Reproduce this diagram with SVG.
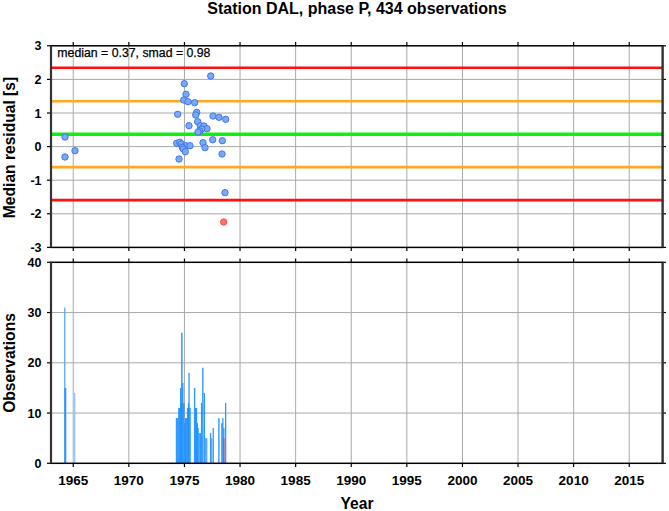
<svg xmlns="http://www.w3.org/2000/svg" width="669" height="511" viewBox="0 0 669 511">
<style>
text{font-family:"Liberation Sans",Arial,sans-serif;fill:#000}
.t{font-size:16px;font-weight:bold}
.yl{font-size:12.5px;font-weight:bold;text-anchor:end}
.xl{font-size:13.5px;font-weight:bold;text-anchor:middle}
.grid line{stroke:#a8a8a8;stroke-width:1}
.tick line{stroke:#000;stroke-width:1.2}
.frame{fill:none;stroke:#000;stroke-width:1.5}
.side{stroke:#333;stroke-width:2.2}
.pt{fill:#78aaf8;stroke:#3c6ee6;stroke-width:0.9}
.ptr{fill:#ff7070;stroke:#f04a4a;stroke-width:0.9}
.b{fill:#1e90ff;opacity:0.92}
.bl{fill:#5aaaff}
</style>
<rect width="669" height="511" fill="#fff"/>
<text class="t" x="357" y="14" text-anchor="middle">Station DAL, phase P, 434 observations</text>

<g id="top-panel">
<g class="grid">
<line x1="73.24" y1="45.8" x2="73.24" y2="247.4"/><line x1="128.84" y1="45.8" x2="128.84" y2="247.4"/><line x1="184.44" y1="45.8" x2="184.44" y2="247.4"/><line x1="240.04" y1="45.8" x2="240.04" y2="247.4"/><line x1="295.64" y1="45.8" x2="295.64" y2="247.4"/><line x1="351.24" y1="45.8" x2="351.24" y2="247.4"/><line x1="406.84" y1="45.8" x2="406.84" y2="247.4"/><line x1="462.44" y1="45.8" x2="462.44" y2="247.4"/><line x1="518.04" y1="45.8" x2="518.04" y2="247.4"/><line x1="573.64" y1="45.8" x2="573.64" y2="247.4"/><line x1="629.24" y1="45.8" x2="629.24" y2="247.4"/>
<line x1="51" y1="79.4" x2="662.6" y2="79.4"/><line x1="51" y1="113" x2="662.6" y2="113"/><line x1="51" y1="146.6" x2="662.6" y2="146.6"/><line x1="51" y1="180.2" x2="662.6" y2="180.2"/><line x1="51" y1="213.8" x2="662.6" y2="213.8"/>
</g>
<line x1="51" y1="67.8" x2="662.6" y2="67.8" stroke="#ff1010" stroke-width="2.6"/>
<line x1="51" y1="101.2" x2="662.6" y2="101.2" stroke="#ffa820" stroke-width="2.6"/>
<line x1="51" y1="134.2" x2="662.6" y2="134.2" stroke="#10f010" stroke-width="3.6"/>
<line x1="51" y1="167.1" x2="662.6" y2="167.1" stroke="#ffa820" stroke-width="2.6"/>
<line x1="51" y1="200.1" x2="662.6" y2="200.1" stroke="#ff1010" stroke-width="2.6"/>
<g id="points">
<circle class="pt" cx="65" cy="137" r="3.2"/><circle class="pt" cx="65" cy="157" r="3.2"/><circle class="pt" cx="75" cy="150.7" r="3.2"/>
<circle class="pt" cx="210.7" cy="76" r="3.2"/><circle class="pt" cx="184.3" cy="83.7" r="3.2"/><circle class="pt" cx="186" cy="94.3" r="3.2"/><circle class="pt" cx="183.7" cy="100" r="3.2"/><circle class="pt" cx="188" cy="101.7" r="3.2"/><circle class="pt" cx="194.7" cy="102.7" r="3.2"/><circle class="pt" cx="177.7" cy="114.3" r="3.2"/><circle class="pt" cx="196.7" cy="112.3" r="3.2"/><circle class="pt" cx="195.7" cy="115" r="3.2"/><circle class="pt" cx="213" cy="116" r="3.2"/><circle class="pt" cx="219" cy="117.3" r="3.2"/><circle class="pt" cx="225.7" cy="119.3" r="3.2"/><circle class="pt" cx="197.7" cy="121.7" r="3.2"/><circle class="pt" cx="189" cy="125.7" r="3.2"/><circle class="pt" cx="200.3" cy="125.7" r="3.2"/><circle class="pt" cx="204" cy="126" r="3.2"/><circle class="pt" cx="207" cy="128.7" r="3.2"/><circle class="pt" cx="201.7" cy="129" r="3.2"/><circle class="pt" cx="199.7" cy="131" r="3.2"/><circle class="pt" cx="198" cy="132" r="3.2"/><circle class="pt" cx="212.7" cy="139.7" r="3.2"/><circle class="pt" cx="222.3" cy="140.7" r="3.2"/><circle class="pt" cx="203" cy="142.7" r="3.2"/><circle class="pt" cx="176.7" cy="143.3" r="3.2"/><circle class="pt" cx="179.7" cy="142.3" r="3.2"/><circle class="pt" cx="181.3" cy="144" r="3.2"/><circle class="pt" cx="185.7" cy="145.7" r="3.2"/><circle class="pt" cx="190" cy="145.7" r="3.2"/><circle class="pt" cx="182.3" cy="147.3" r="3.2"/><circle class="pt" cx="183.3" cy="149" r="3.2"/><circle class="pt" cx="205" cy="147.7" r="3.2"/><circle class="pt" cx="185.3" cy="151.7" r="3.2"/><circle class="pt" cx="222" cy="154" r="3.2"/><circle class="pt" cx="179" cy="159" r="3.2"/><circle class="pt" cx="225" cy="192.7" r="3.2"/>
<circle class="ptr" cx="223.7" cy="222" r="3.2"/>
</g>
<g class="tick">
<line x1="47" y1="45.8" x2="51" y2="45.8"/><line x1="47" y1="79.4" x2="51" y2="79.4"/><line x1="47" y1="113" x2="51" y2="113"/><line x1="47" y1="146.6" x2="51" y2="146.6"/><line x1="47" y1="180.2" x2="51" y2="180.2"/><line x1="47" y1="213.8" x2="51" y2="213.8"/><line x1="47" y1="247.4" x2="51" y2="247.4"/>
<line x1="662.6" y1="45.8" x2="666" y2="45.8"/><line x1="662.6" y1="79.4" x2="666" y2="79.4"/><line x1="662.6" y1="113" x2="666" y2="113"/><line x1="662.6" y1="146.6" x2="666" y2="146.6"/><line x1="662.6" y1="180.2" x2="666" y2="180.2"/><line x1="662.6" y1="213.8" x2="666" y2="213.8"/><line x1="662.6" y1="247.4" x2="666" y2="247.4"/>
<line x1="73.24" y1="42" x2="73.24" y2="45.8"/><line x1="128.84" y1="42" x2="128.84" y2="45.8"/><line x1="184.44" y1="42" x2="184.44" y2="45.8"/><line x1="240.04" y1="42" x2="240.04" y2="45.8"/><line x1="295.64" y1="42" x2="295.64" y2="45.8"/><line x1="351.24" y1="42" x2="351.24" y2="45.8"/><line x1="406.84" y1="42" x2="406.84" y2="45.8"/><line x1="462.44" y1="42" x2="462.44" y2="45.8"/><line x1="518.04" y1="42" x2="518.04" y2="45.8"/><line x1="573.64" y1="42" x2="573.64" y2="45.8"/><line x1="629.24" y1="42" x2="629.24" y2="45.8"/>
<line x1="73.24" y1="247.4" x2="73.24" y2="251"/><line x1="128.84" y1="247.4" x2="128.84" y2="251"/><line x1="184.44" y1="247.4" x2="184.44" y2="251"/><line x1="240.04" y1="247.4" x2="240.04" y2="251"/><line x1="295.64" y1="247.4" x2="295.64" y2="251"/><line x1="351.24" y1="247.4" x2="351.24" y2="251"/><line x1="406.84" y1="247.4" x2="406.84" y2="251"/><line x1="462.44" y1="247.4" x2="462.44" y2="251"/><line x1="518.04" y1="247.4" x2="518.04" y2="251"/><line x1="573.64" y1="247.4" x2="573.64" y2="251"/><line x1="629.24" y1="247.4" x2="629.24" y2="251"/>
</g>
<rect class="frame" x="51" y="45.8" width="611.6" height="201.6"/>
<line class="side" x1="51" y1="45.8" x2="51" y2="247.4"/><line class="side" x1="662.6" y1="45.8" x2="662.6" y2="247.4"/>
<text x="57.3" y="57.3" style="font-size:12.3px;stroke:#000;stroke-width:0.25">median = 0.37, smad = 0.98</text>
<text class="yl" x="41.5" y="50.3">3</text><text class="yl" x="41.5" y="83.9">2</text><text class="yl" x="41.5" y="117.5">1</text><text class="yl" x="41.5" y="151.1">0</text><text class="yl" x="41.5" y="184.7">-1</text><text class="yl" x="41.5" y="218.3">-2</text><text class="yl" x="41.5" y="251.9">-3</text>
<text class="t" transform="translate(15,147.5) rotate(-90)" text-anchor="middle" style="font-size:15.6px">Median residual [s]</text>
</g>

<g id="bottom-panel">
<g class="grid">
<line x1="73.24" y1="262.3" x2="73.24" y2="463.3"/><line x1="128.84" y1="262.3" x2="128.84" y2="463.3"/><line x1="184.44" y1="262.3" x2="184.44" y2="463.3"/><line x1="240.04" y1="262.3" x2="240.04" y2="463.3"/><line x1="295.64" y1="262.3" x2="295.64" y2="463.3"/><line x1="351.24" y1="262.3" x2="351.24" y2="463.3"/><line x1="406.84" y1="262.3" x2="406.84" y2="463.3"/><line x1="462.44" y1="262.3" x2="462.44" y2="463.3"/><line x1="518.04" y1="262.3" x2="518.04" y2="463.3"/><line x1="573.64" y1="262.3" x2="573.64" y2="463.3"/><line x1="629.24" y1="262.3" x2="629.24" y2="463.3"/>
<line x1="51" y1="312.55" x2="662.6" y2="312.55"/><line x1="51" y1="362.8" x2="662.6" y2="362.8"/><line x1="51" y1="413.05" x2="662.6" y2="413.05"/>
</g>
<g id="bars">
<rect class="bl" x="64.1" y="307.5" width="1.3" height="155.8"/>
<rect class="b" x="64.5" y="387.9" width="1.8" height="75.4"/>
<rect fill="#9cc8ff" x="73.8" y="392.9" width="1.6" height="70.4"/>
<rect class="b" x="175.8" y="418.1" width="1.6" height="45.2"/>
<rect class="b" x="177.1" y="418.1" width="1.5" height="45.2"/>
<rect class="b" x="178.1" y="408" width="1.5" height="55.3"/>
<rect class="b" x="179.1" y="408" width="1.5" height="55.3"/>
<rect class="b" x="180" y="387.9" width="1.3" height="75.4"/>
<rect class="b" x="180.7" y="403" width="1.3" height="60.3"/>
<rect class="b" x="181.1" y="332.65" width="1.5" height="130.65"/>
<rect class="b" x="182.1" y="382.9" width="1.4" height="80.4"/>
<rect class="b" x="183.1" y="403" width="1.4" height="60.3"/>
<rect class="b" x="184.1" y="423.1" width="1.4" height="40.2"/>
<rect class="b" x="185" y="418.1" width="1.5" height="45.2"/>
<rect class="b" x="186.1" y="418.1" width="1.4" height="45.2"/>
<rect class="b" x="186.9" y="408" width="1.4" height="55.3"/>
<rect class="b" x="187.9" y="403" width="1.3" height="60.3"/>
<rect class="b" x="188.4" y="372.85" width="1.3" height="90.45"/>
<rect class="b" x="189.3" y="408" width="1.5" height="55.3"/>
<rect class="b" x="193.9" y="387.9" width="1.4" height="75.4"/>
<rect class="b" x="194.9" y="408" width="1.4" height="55.3"/>
<rect class="b" x="195.9" y="408" width="1.3" height="55.3"/>
<rect class="b" x="196.7" y="423.1" width="1.3" height="40.2"/>
<rect class="b" x="197.5" y="428.1" width="1.3" height="35.2"/>
<rect class="b" x="198.5" y="433.15" width="1.3" height="30.15"/>
<rect class="b" x="199.9" y="433.15" width="1.3" height="30.15"/>
<rect class="b" x="200.9" y="403" width="1.3" height="60.3"/>
<rect class="b" x="202.1" y="367.8" width="1.4" height="95.5"/>
<rect class="b" x="203.7" y="392.9" width="1.4" height="70.4"/>
<rect class="bl" x="204.9" y="438.2" width="1.4" height="25.1"/>
<rect class="bl" x="206" y="438.2" width="1.4" height="25.1"/>
<rect class="b" x="209.9" y="433.15" width="1.3" height="30.15"/>
<rect class="bl" x="210.9" y="438.2" width="1.4" height="25.1"/>
<rect class="b" x="212.6" y="428.1" width="1.3" height="35.2"/>
<rect class="b" x="218.2" y="418.1" width="1.4" height="45.2"/>
<rect class="b" x="221.2" y="423.1" width="1.4" height="40.2"/>
<rect class="b" x="222.2" y="418.1" width="1.3" height="45.2"/>
<rect class="b" x="223.2" y="428.1" width="1.3" height="35.2"/>
<rect x="223.2" y="438.2" width="1.3" height="25.1" fill="#d04a6a"/>
<rect class="b" x="225" y="403" width="1.3" height="60.3"/>
</g>
<g class="tick">
<line x1="47" y1="262.3" x2="51" y2="262.3"/><line x1="47" y1="312.55" x2="51" y2="312.55"/><line x1="47" y1="362.8" x2="51" y2="362.8"/><line x1="47" y1="413.05" x2="51" y2="413.05"/><line x1="47" y1="463.3" x2="51" y2="463.3"/>
<line x1="662.6" y1="262.3" x2="666" y2="262.3"/><line x1="662.6" y1="312.55" x2="666" y2="312.55"/><line x1="662.6" y1="362.8" x2="666" y2="362.8"/><line x1="662.6" y1="413.05" x2="666" y2="413.05"/><line x1="662.6" y1="463.3" x2="666" y2="463.3"/>
<line x1="73.24" y1="258.5" x2="73.24" y2="262.3"/><line x1="128.84" y1="258.5" x2="128.84" y2="262.3"/><line x1="184.44" y1="258.5" x2="184.44" y2="262.3"/><line x1="240.04" y1="258.5" x2="240.04" y2="262.3"/><line x1="295.64" y1="258.5" x2="295.64" y2="262.3"/><line x1="351.24" y1="258.5" x2="351.24" y2="262.3"/><line x1="406.84" y1="258.5" x2="406.84" y2="262.3"/><line x1="462.44" y1="258.5" x2="462.44" y2="262.3"/><line x1="518.04" y1="258.5" x2="518.04" y2="262.3"/><line x1="573.64" y1="258.5" x2="573.64" y2="262.3"/><line x1="629.24" y1="258.5" x2="629.24" y2="262.3"/>
<line x1="73.24" y1="463.3" x2="73.24" y2="467"/><line x1="128.84" y1="463.3" x2="128.84" y2="467"/><line x1="184.44" y1="463.3" x2="184.44" y2="467"/><line x1="240.04" y1="463.3" x2="240.04" y2="467"/><line x1="295.64" y1="463.3" x2="295.64" y2="467"/><line x1="351.24" y1="463.3" x2="351.24" y2="467"/><line x1="406.84" y1="463.3" x2="406.84" y2="467"/><line x1="462.44" y1="463.3" x2="462.44" y2="467"/><line x1="518.04" y1="463.3" x2="518.04" y2="467"/><line x1="573.64" y1="463.3" x2="573.64" y2="467"/><line x1="629.24" y1="463.3" x2="629.24" y2="467"/>
</g>
<rect class="frame" x="51" y="262.3" width="611.6" height="201"/>
<line class="side" x1="51" y1="262.3" x2="51" y2="463.3"/><line class="side" x1="662.6" y1="262.3" x2="662.6" y2="463.3"/>
<text class="yl" x="41.5" y="266.8">40</text><text class="yl" x="41.5" y="317">30</text><text class="yl" x="41.5" y="367.3">20</text><text class="yl" x="41.5" y="417.5">10</text><text class="yl" x="41.5" y="467.8">0</text>
<text class="xl" x="73.24" y="485">1965</text><text class="xl" x="128.84" y="485">1970</text><text class="xl" x="184.44" y="485">1975</text><text class="xl" x="240.04" y="485">1980</text><text class="xl" x="295.64" y="485">1985</text><text class="xl" x="351.24" y="485">1990</text><text class="xl" x="406.84" y="485">1995</text><text class="xl" x="462.44" y="485">2000</text><text class="xl" x="518.04" y="485">2005</text><text class="xl" x="573.64" y="485">2010</text><text class="xl" x="629.24" y="485">2015</text>
<text class="t" transform="translate(15,363) rotate(-90)" text-anchor="middle" style="font-size:15.6px">Observations</text>
<text class="t" x="357" y="509" text-anchor="middle" style="font-size:15.6px">Year</text>
</g>
</svg>
